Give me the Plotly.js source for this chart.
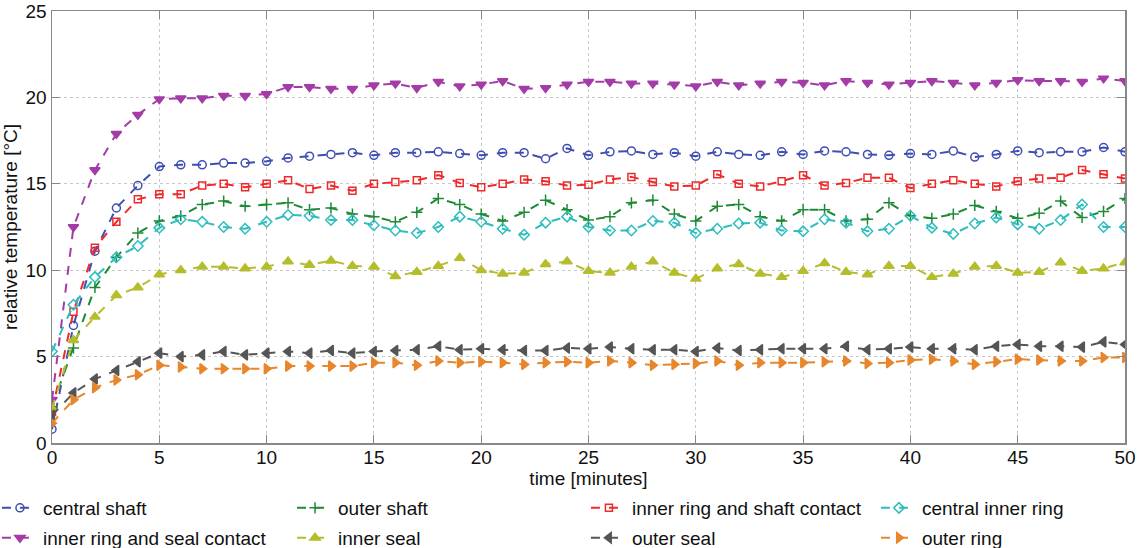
<!DOCTYPE html>
<html>
<head>
<meta charset="utf-8">
<script src="https://cdn.plot.ly/plotly-3.0.1.min.js"></script>
<style>html,body{margin:0;padding:0;background:#fff;}#chart{width:1137px;height:548px;}</style>
</head>
<body>
<div id="chart"></div>
<script>
var time = [];
for (var i = 0; i <= 50; i++) time.push(i);

var centralShaft = [0.8,6.8,11.1,13.6,14.9,16.0,16.1,16.1,16.2,16.2,16.3,16.5,16.6,16.7,16.8,16.65,16.8,16.8,16.85,16.75,16.65,16.8,16.8,16.45,17.05,16.65,16.85,16.9,16.7,16.8,16.6,16.85,16.7,16.65,16.85,16.7,16.9,16.85,16.7,16.65,16.75,16.7,16.9,16.55,16.7,16.9,16.8,16.85,16.85,17.1,16.85];
var outerShaft = [2.1,5.5,9.0,10.75,12.15,12.85,13.15,13.8,14.0,13.7,13.8,13.9,13.5,13.6,13.25,13.1,12.8,13.35,14.15,13.8,13.25,12.85,13.35,14.05,13.5,12.9,13.1,13.9,14.05,13.25,12.85,13.7,13.8,13.1,12.85,13.5,13.5,12.85,12.95,13.9,13.15,13.0,13.25,13.75,13.4,13.0,13.3,14.0,13.05,13.4,14.15];
var innerRingShaft = [1.8,7.6,11.3,12.8,14.1,14.4,14.4,14.9,15.0,14.8,15.0,15.2,14.7,14.9,14.6,15.0,15.1,15.2,15.5,15.05,14.8,15.0,15.25,15.15,14.9,14.95,15.25,15.4,15.1,14.85,14.9,15.55,15.0,14.85,15.15,15.5,14.9,15.05,15.35,15.35,14.75,15.0,15.2,15.0,14.85,15.15,15.3,15.35,15.8,15.55,15.3];
var centralInnerRing = [5.3,8.0,9.6,10.75,11.4,12.45,12.95,12.8,12.5,12.4,12.8,13.2,13.15,12.9,12.9,12.6,12.3,12.15,12.5,13.1,12.8,12.4,12.05,12.75,13.1,12.5,12.3,12.3,12.85,12.75,12.15,12.4,12.7,12.75,12.3,12.25,12.95,12.75,12.25,12.4,13.15,12.45,12.1,12.7,13.05,12.65,12.4,12.9,13.8,12.5,12.5];
var innerRingSeal = [2.5,12.5,15.8,17.9,19.0,19.9,19.95,19.95,20.1,20.1,20.2,20.6,20.6,20.5,20.5,20.7,20.8,20.55,20.9,20.65,20.75,20.95,20.5,20.55,20.75,20.9,20.9,20.8,20.8,20.75,20.65,20.9,20.7,20.8,20.9,20.85,20.7,20.95,20.85,20.75,20.85,20.95,20.85,20.7,20.85,21.0,20.95,20.95,20.9,21.1,20.95];
var innerSeal = [2.0,5.95,7.3,8.55,9.0,9.75,10.0,10.2,10.2,10.1,10.2,10.5,10.3,10.55,10.25,10.2,9.65,9.9,10.25,10.7,10.0,9.8,9.85,10.35,10.5,9.95,9.85,10.2,10.5,9.85,9.5,10.1,10.35,9.8,9.6,9.95,10.4,9.9,9.75,10.25,10.25,9.6,9.8,10.2,10.25,9.85,9.9,10.45,9.95,10.1,10.45];
var outerSeal = [1.6,2.9,3.7,4.2,4.7,5.2,5.0,5.1,5.3,5.1,5.2,5.3,5.2,5.35,5.2,5.3,5.35,5.4,5.6,5.4,5.45,5.4,5.35,5.35,5.5,5.45,5.55,5.45,5.4,5.4,5.3,5.5,5.35,5.4,5.45,5.45,5.45,5.6,5.4,5.45,5.55,5.45,5.45,5.4,5.6,5.7,5.6,5.6,5.55,5.85,5.7];
var outerRing = [1.15,2.5,3.2,3.65,3.95,4.5,4.4,4.3,4.3,4.3,4.3,4.45,4.45,4.45,4.45,4.65,4.65,4.5,4.75,4.65,4.7,4.65,4.55,4.65,4.7,4.65,4.75,4.65,4.5,4.55,4.6,4.75,4.5,4.65,4.65,4.65,4.7,4.75,4.6,4.65,4.8,4.85,4.75,4.55,4.7,4.85,4.8,4.75,4.75,4.95,4.95];

var seriesNames = ["central shaft","outer shaft","inner ring and shaft contact","central inner ring","inner ring and seal contact","inner seal","outer seal","outer ring"];
var seriesData = [centralShaft,outerShaft,innerRingShaft,centralInnerRing,innerRingSeal,innerSeal,outerSeal,outerRing];
var colors = ["#3d4fb3","#1e8a36","#ee2a2a","#2dbdbd","#a43ca8","#b5bd2c","#555555","#e8862c"];
var symbols = ["circle-open","cross-thin-open","square-open","diamond-open","triangle-down","triangle-up","triangle-left","triangle-right"];
var sizes = [8,8,7,8,9,9,9,9];
var legendIds = ["legend","legend2","legend3","legend4","legend5","legend6","legend7","legend8"];

var traces = seriesData.map(function(d, k){
  return {
    x: time, y: d, name: seriesNames[k], type: 'scatter', mode: 'lines+markers',
    legend: legendIds[k],
    line: {color: colors[k], width: 2, dash: 'dash'},
    marker: {symbol: symbols[k], size: sizes[k], color: colors[k], line: {color: colors[k], width: 1.5}}
  };
});

var font = {family: '"Liberation Sans", Arial, sans-serif', size: 19, color: '#111'};
var colX = [-0.0513, 0.2237, 0.4976, 0.7679];
var rowY = [-0.1505, -0.2199];
var layout = {
  width: 1137, height: 548,
  margin: {l: 52, r: 12, t: 11, b: 105, autoexpand: false},
  paper_bgcolor: '#fff', plot_bgcolor: '#fff',
  font: font,
  showlegend: true,
  xaxis: {
    range: [0, 50], tickvals: [0,5,10,15,20,25,30,35,40,45,50],
    ticks: 'inside', ticklen: 8, tickcolor: '#888', mirror: 'ticks',
    showline: true, linecolor: '#888', linewidth: 1.5,
    showgrid: true, gridcolor: '#c8c8c8', griddash: 'dot', gridwidth: 1,
    zeroline: false, tickfont: font, ticklabeloverflow: 'allow',
    ticklabelstandoff: -3, automargin: false,
    title: {text: 'time [minutes]', font: font, standoff: 0}
  },
  yaxis: {
    range: [0, 25], tickvals: [0,5,10,15,20,25],
    ticks: 'inside', ticklen: 8, tickcolor: '#888', mirror: 'ticks',
    showline: true, linecolor: '#888', linewidth: 1.5,
    showgrid: true, gridcolor: '#c8c8c8', griddash: 'dot', gridwidth: 1,
    zeroline: false, tickfont: font, ticklabeloverflow: 'allow',
    automargin: false,
    title: {text: 'relative temperature [°C]', font: font, standoff: 4}
  }
};
legendIds.forEach(function(id, k){
  layout[id] = {
    x: colX[k % 4], y: rowY[Math.floor(k / 4)], xanchor: 'left', yanchor: 'middle',
    orientation: 'v', bgcolor: 'rgba(0,0,0,0)', borderwidth: 0, font: font,
    itemwidth: 36
  };
});

Plotly.newPlot('chart', traces, layout, {displayModeBar: false, staticPlot: true});
</script>
</body>
</html>
